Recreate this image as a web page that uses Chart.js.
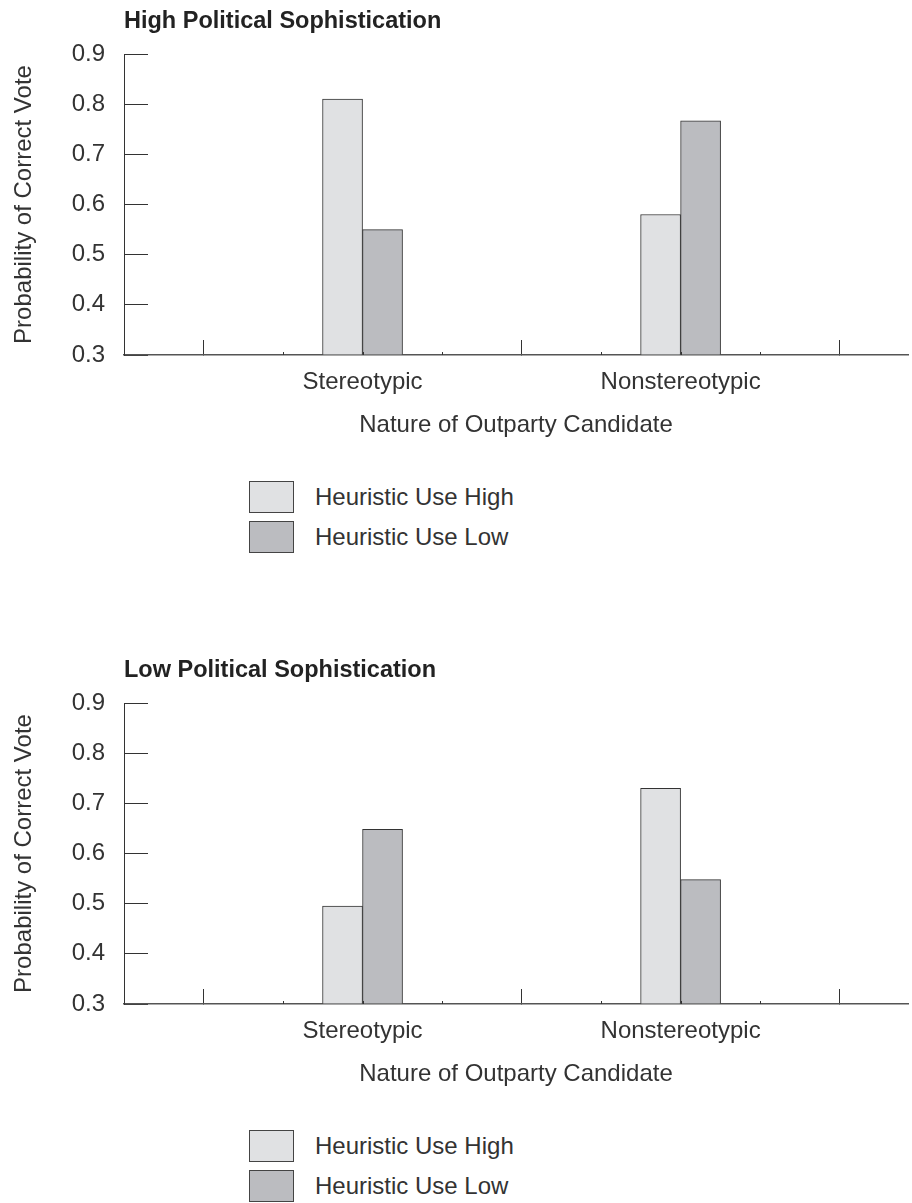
<!DOCTYPE html>
<html>
<head>
<meta charset="utf-8">
<script src="https://cdn.jsdelivr.net/npm/chart.js@4"></script>
<style>
  html, body { margin: 0; padding: 0; background: #fff; overflow: hidden; }
  body { width: 912px; height: 1203px; font-family: "Liberation Sans", Arial, Helvetica, sans-serif; }
  .panel { position: relative; width: 912px; height: 649px; }
  .panel canvas { display: block; }
  .legend { margin: 31px 0 0 249px; }
  .legend .item { display: flex; align-items: center; height: 32px; margin-bottom: 8px; }
  .legend .box { width: 45px; height: 32px; box-sizing: border-box; border: 1px solid #444; }
  .legend .text { margin-left: 21px; font-size: 24px; color: #333; }
</style>
</head>
<body>
<div class="panel">
  <canvas id="chartHigh" width="912" height="450"></canvas>
  <div class="legend" id="legendHigh"></div>
</div>
<div class="panel">
  <canvas id="chartLow" width="912" height="450"></canvas>
  <div class="legend" id="legendLow"></div>
</div>
<script>
const categories = ['Stereotypic', 'Nonstereotypic'];
const seriesNames = ['Heuristic Use High', 'Heuristic Use Low'];
const yTicks = [0.3, 0.4, 0.5, 0.6, 0.7, 0.8, 0.9];

// high political sophistication
const highSophUseHigh = [0.81, 0.58];
const highSophUseLow = [0.55, 0.767];

// low political sophistication
const lowSophUseHigh = [0.495, 0.73];
const lowSophUseLow = [0.648, 0.548];

const colors = ['#e0e1e3', '#bbbcc0'];
const ink = '#333';

Chart.defaults.font.family = '"Liberation Sans", Arial, Helvetica, sans-serif';
Chart.defaults.color = ink;

// each category sits in the middle of a 4 unit slot on the x axis
const slot = (i) => 3 + 4 * i;
const xSpan = 9.86;
const isMajor = (v) => v > 0 && (v - 1) % 4 === 0;

const minorTicks = {
  id: 'minorTicks',
  afterDraw(chart) {
    const xs = chart.scales.x;
    const bottom = chart.chartArea.bottom;
    const ctx = chart.ctx;
    ctx.save();
    ctx.strokeStyle = ink;
    ctx.lineWidth = 1;
    ctx.beginPath();
    xs.ticks.forEach((t) => {
      if (t.value <= 0 || isMajor(t.value)) return;
      const px = Math.round(xs.getPixelForValue(t.value)) + 0.5;
      ctx.moveTo(px, bottom);
      ctx.lineTo(px, bottom - 3);
    });
    ctx.stroke();
    ctx.restore();
  }
};

function makeChart(canvasId, legendId, title, useHigh, useLow) {
  const chart = new Chart(document.getElementById(canvasId), {
    type: 'bar',
    data: {
      datasets: [useHigh, useLow].map((vals, k) => ({
        label: seriesNames[k],
        data: vals.map((v, i) => ({ x: slot(i), y: v })),
        backgroundColor: colors[k],
        borderColor: ink,
        borderWidth: 1,
        barThickness: 40,
        base: yTicks[0],
      })),
    },
    options: {
      responsive: false,
      animation: false,
      events: [],
      layout: { padding: { left: 0, right: 4, top: 0, bottom: 0 } },
      scales: {
        x: {
          type: 'linear',
          min: 0,
          max: xSpan,
          offset: false,
          grid: {
            offset: false,
            drawOnChartArea: false,
            tickLength: -15,
            tickColor: (c) => (isMajor(c.tick.value) ? ink : 'rgba(0,0,0,0)'),
          },
          border: { color: '#555', width: 1.5 },
          ticks: {
            stepSize: 1,
            includeBounds: false,
            autoSkip: false,
            maxRotation: 0,
            padding: 28,
            font: { size: 24 },
            callback: (v) => {
              const i = categories.findIndex((_, j) => slot(j) === v);
              return i >= 0 ? categories[i] : '';
            },
          },
          title: {
            display: true,
            text: 'Nature of Outparty Candidate',
            font: { size: 24 },
            padding: { top: 0, bottom: 10.6 },
          },
          afterFit: (s) => { s.height = 95; },
        },
        y: {
          min: yTicks[0],
          max: yTicks[yTicks.length - 1],
          beginAtZero: false,
          grid: { drawOnChartArea: false, tickLength: -24, tickColor: ink },
          border: { color: ink, width: 1 },
          afterBuildTicks: (s) => { s.ticks = yTicks.map((v) => ({ value: v })); },
          ticks: {
            padding: 43,
            font: { size: 24 },
            callback: (v) => Number(v).toFixed(1),
          },
          title: {
            display: true,
            text: 'Probability of Correct Vote',
            font: { size: 24 },
            padding: { top: 9.6, bottom: 0 },
          },
          afterFit: (s) => {
            s.width = 124;
            s.paddingTop = 0;
            s.paddingBottom = 0;
          },
        },
      },
      plugins: {
        legend: { display: false },
        tooltip: { enabled: false },
        title: {
          display: true,
          text: title,
          align: 'start',
          fullSize: false,
          color: '#222',
          font: { size: 23.5, weight: 'bold' },
          padding: { top: 7.5, bottom: 18.3 },
        },
      },
    },
    plugins: [minorTicks],
  });

  // legend as a vertical list, built from the chart's own legend items
  const box = document.getElementById(legendId);
  Chart.defaults.plugins.legend.labels.generateLabels(chart).forEach((item) => {
    const row = document.createElement('div');
    row.className = 'item';
    const sw = document.createElement('span');
    sw.className = 'box';
    sw.style.background = item.fillStyle;
    const tx = document.createElement('span');
    tx.className = 'text';
    tx.textContent = item.text;
    row.appendChild(sw);
    row.appendChild(tx);
    box.appendChild(row);
  });
  return chart;
}

makeChart('chartHigh', 'legendHigh', 'High Political Sophistication', highSophUseHigh, highSophUseLow);
makeChart('chartLow', 'legendLow', 'Low Political Sophistication', lowSophUseHigh, lowSophUseLow);
</script>
</body>
</html>
